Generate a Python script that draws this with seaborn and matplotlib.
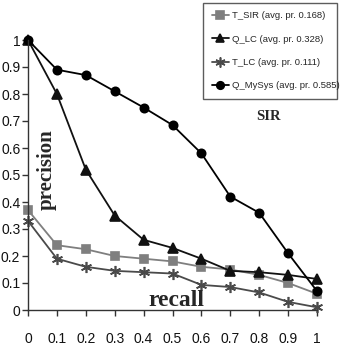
import matplotlib
matplotlib.use("Agg")
import matplotlib.pyplot as plt
import seaborn as sns
import pandas as pd

recall = [0, 0.1, 0.2, 0.3, 0.4, 0.5, 0.6, 0.7, 0.8, 0.9, 1.0]
t_sir = [0.37, 0.24, 0.225, 0.20, 0.19, 0.18, 0.16, 0.15, 0.13, 0.10, 0.06]
q_lc = [1.0, 0.80, 0.52, 0.35, 0.26, 0.23, 0.19, 0.145, 0.14, 0.13, 0.115]
t_lc = [0.33, 0.19, 0.16, 0.145, 0.14, 0.135, 0.093, 0.085, 0.065, 0.03, 0.01]
q_mysys = [1.0, 0.89, 0.87, 0.81, 0.75, 0.685, 0.58, 0.42, 0.36, 0.21, 0.07]

labels = ["T_SIR (avg. pr. 0.168)", "Q_LC (avg. pr. 0.328)",
          "T_LC (avg. pr. 0.111)", "Q_MySys (avg. pr. 0.585)"]
tick_labels = ["0", "0.1", "0.2", "0.3", "0.4", "0.5", "0.6", "0.7", "0.8", "0.9", "1"]
colors = ["#7f7f7f", "#111111", "#4a4a4a", "#000000"]
markers = ["s", "^", (6, 2, 0), "o"]
sizes = [6, 7, 8, 6]

sns.set_theme(style="white")
plt.rcParams['font.family'] = ['Liberation Sans', 'DejaVu Sans']

fig = plt.figure(figsize=(3.4, 3.51), dpi=100)
ax = fig.add_axes([28 / 340, 1 - 310 / 351, (317 - 28) / 340, 270 / 351])

series = [t_sir, q_lc, t_lc, q_mysys]
for vals, lab, col, mk, ms in zip(series, labels, colors, markers, sizes):
    df = pd.DataFrame({"recall": recall, "precision": vals})
    sns.lineplot(data=df, x="recall", y="precision", ax=ax, color=col,
                 marker=mk, markersize=ms, markeredgecolor=col,
                 markeredgewidth=1.2, linewidth=1.3, label=lab, clip_on=False)

ax.set_xlim(0, 1)
ax.set_ylim(0, 1)
ax.set_xticks(recall)
ax.set_xticklabels(tick_labels)
ax.set_yticks(recall)
ax.set_yticklabels(tick_labels)
ax.set_xlabel("")
ax.set_ylabel("")
for s in ["top", "right"]:
    ax.spines[s].set_visible(False)
for s in ["left", "bottom"]:
    ax.spines[s].set_color("#333333")
    ax.spines[s].set_linewidth(1.0)
ax.tick_params(axis="both", which="both", direction="out", length=4, width=1,
               color="#333333", labelsize=10, labelcolor="#111111", left=True, bottom=True)
ax.tick_params(axis="x", pad=12)
ax.tick_params(axis="y", pad=1.5)
ax.patch.set_alpha(0)

leg = ax.legend(loc="upper left",
                bbox_to_anchor=(203 / 340, 1 - 110 / 351, 134 / 340, 107 / 351),
                bbox_transform=fig.transFigure, mode="expand", frameon=True,
                fontsize=6.8, handlelength=1.9, handletextpad=0.25, borderpad=0.9,
                labelspacing=1.5, fancybox=False, borderaxespad=0, markerscale=0.9)
leg.get_frame().set_edgecolor("#333333")
leg.get_frame().set_linewidth(1.0)
leg.set_zorder(5)

fig.text(268 / 340, 1 - 117 / 351, "SIR", ha="center", va="center",
         family="Liberation Serif", fontweight="bold", fontsize=10.5,
         bbox=dict(facecolor="white", edgecolor="none", pad=1.5), zorder=10)
fig.text(47 / 340, 1 - 170 / 351, "precision", ha="center", va="center", rotation=90,
         family="Liberation Serif", fontweight="bold", fontsize=15)
fig.text(176 / 340, 1 - 301 / 351, "recall", ha="center", va="center",
         family="Liberation Serif", fontweight="bold", fontsize=17)

fig.savefig("out.png", dpi=100)
